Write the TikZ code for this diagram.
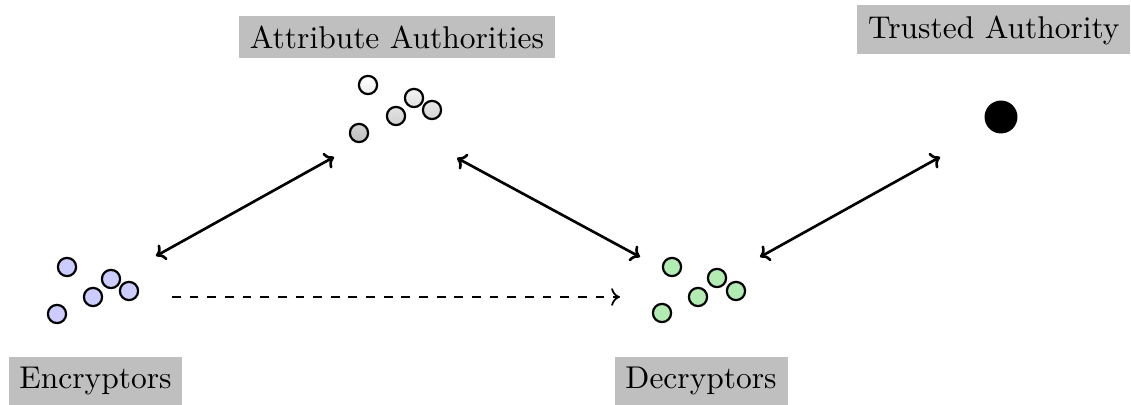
\documentclass[tikz,border=0pt]{standalone}
\usetikzlibrary{arrows.meta}
\definecolor{encfill}{RGB}{204,204,255}
\definecolor{decfill}{RGB}{178,236,178}
\definecolor{labelgray}{RGB}{191,191,191}
\tikzset{
  lbl/.style={fill=labelgray, inner xsep=3.7pt, inner ysep=3.4pt, font=\fontsize{10.7}{13}\selectfont},
  dot/.style={circle, draw=black, line width=0.75pt, minimum size=6.2pt, inner sep=0pt},
  encdot/.style={dot, fill=encfill},
  decdot/.style={dot, fill=decfill},
  aadot/.style={dot, top color=gray!#1, bottom color=gray!\the\numexpr#1+14\relax},
  link/.style={line width=0.9pt, {To[length=3pt,width=6pt]}-{To[length=3pt,width=6pt]}},
  flow/.style={line width=0.6pt, dashed, -{To[length=3pt,width=6pt]}}
}
\begin{document}
\begin{tikzpicture}[x=0.34pt, y=-0.34pt]
\useasboundingbox (0,0) rectangle (1131,405);
% labels
\node[lbl] (aa) at (397,37) {Attribute Authorities};
\node[lbl, anchor=east] (ta) at (1131,30) {Trusted Authority};
\node[lbl, anchor=west] (enc) at (8,381) {Encryptors};
\node[lbl, anchor=west] (dec) at (614,381) {Decryptors};
% attribute authority dots
\node[aadot=0]  (a1) at (368,85) {};
\node[aadot=10] (a2) at (414,98) {};
\node[aadot=19] (a3) at (432,110) {};
\node[aadot=23] (a4) at (396,116) {};
\node[aadot=36] (a5) at (359,133) {};
% encryptor dots
\node[encdot] (e1) at (67,267) {};
\node[encdot] (e2) at (111,279) {};
\node[encdot] (e3) at (129,291) {};
\node[encdot] (e4) at (93,297) {};
\node[encdot] (e5) at (57,314) {};
% decryptor dots
\node[decdot] (d1) at (672,267) {};
\node[decdot] (d2) at (717,278) {};
\node[decdot] (d3) at (736,291) {};
\node[decdot] (d4) at (698,297) {};
\node[decdot] (d5) at (662,313) {};
% trusted authority
\node[circle, fill=black, minimum size=11.2pt, inner sep=0pt] (t1) at (1001,117) {};
% connector ends
\coordinate (encR) at (156,256);
\coordinate (aaL) at (334,157);
\coordinate (aaR) at (457,158);
\coordinate (decL) at (640,257);
\coordinate (decR) at (760,257);
\coordinate (taL) at (940,157);
\coordinate (flowS) at (172,297);
\coordinate (flowE) at (620,297);
\draw[link] (encR) -- (aaL);
\draw[link] (aaR) -- (decL);
\draw[link] (decR) -- (taL);
\draw[flow] (flowS) -- (flowE);
\end{tikzpicture}
\end{document}
